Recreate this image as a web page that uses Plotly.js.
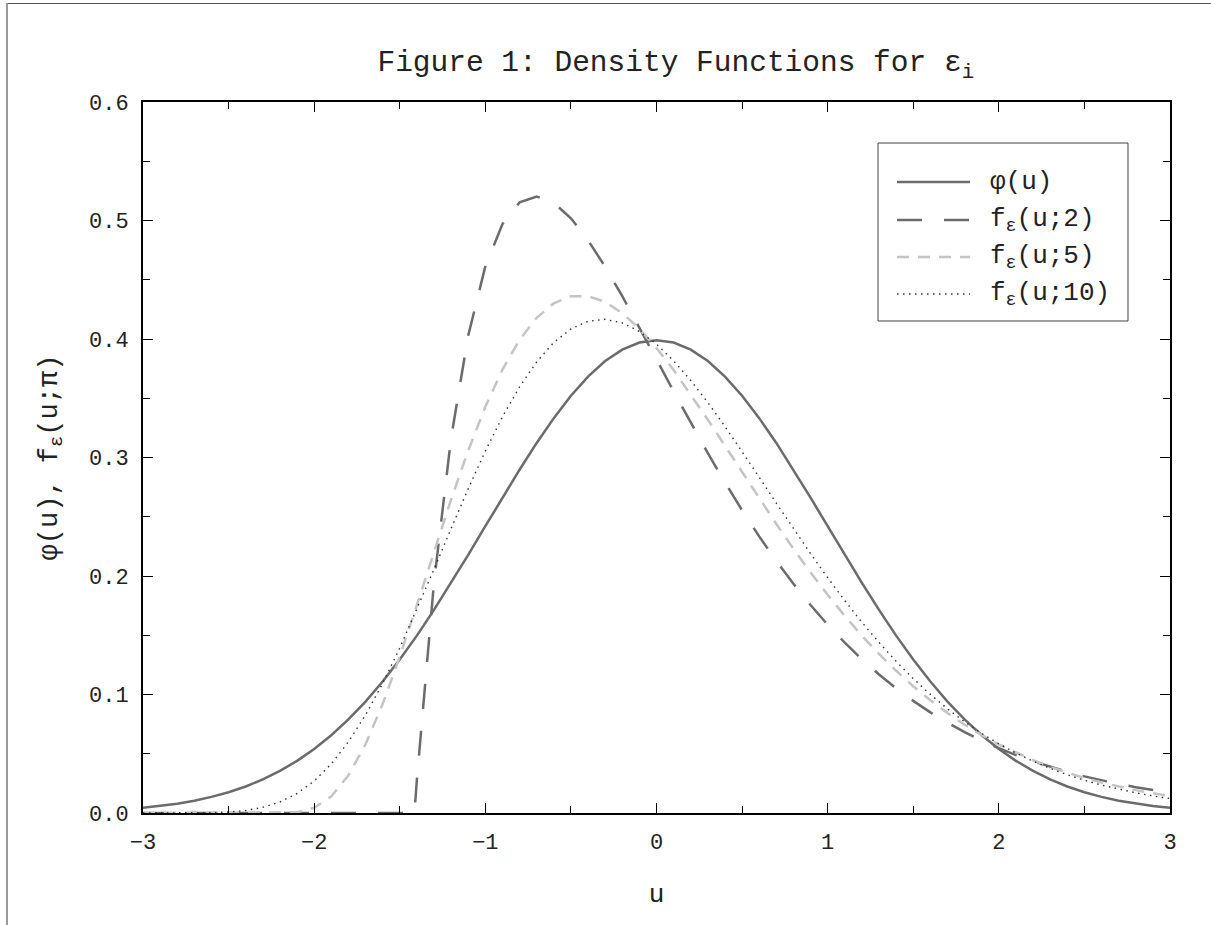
<!DOCTYPE html>
<html>
<head>
<meta charset="utf-8">
<script src="https://cdn.plot.ly/plotly-3.0.1.min.js"></script>
<style>
  html, body { margin: 0; padding: 0; background: #fff; }
  #wrap { position: relative; width: 1211px; height: 925px; overflow: hidden; }
  #chart { position: absolute; left: 0; top: 0; width: 1211px; height: 925px; }
  #ftop { position: absolute; left: 6px; top: 3px; width: 1205px; height: 1px; background: #555; pointer-events: none; }
  #fleft { position: absolute; left: 6px; top: 3px; width: 2px; height: 922px; background: #999; pointer-events: none; }
</style>
</head>
<body>
<div id="wrap">
  <div id="chart"></div>
  <div id="ftop"></div>
  <div id="fleft"></div>
</div>
<script>
// ---- data ----
const uGrid = [-3.0,-2.9,-2.8,-2.7,-2.6,-2.5,-2.4,-2.3,-2.2,-2.1,-2.0,-1.9,-1.8,-1.7,-1.6,-1.5,-1.4,-1.3,-1.2,-1.1,-1.0,-0.9,-0.8,-0.7,-0.6,-0.5,-0.4,-0.3,-0.2,-0.1,0.0,0.1,0.2,0.3,0.4,0.5,0.6,0.7,0.8,0.9,1.0,1.1,1.2,1.3,1.4,1.5,1.6,1.7,1.8,1.9,2.0,2.1,2.2,2.3,2.4,2.5,2.6,2.7,2.8,2.9,3.0];

const phiVals = [0.0044,0.0060,0.0079,0.0104,0.0136,0.0175,0.0224,0.0283,0.0355,0.0440,0.0540,0.0656,0.0790,0.0940,0.1109,0.1295,0.1497,0.1714,0.1942,0.2179,0.2420,0.2661,0.2897,0.3123,0.3332,0.3521,0.3683,0.3814,0.3910,0.3970,0.3989,0.3970,0.3910,0.3814,0.3683,0.3521,0.3332,0.3123,0.2897,0.2661,0.2420,0.2179,0.1942,0.1714,0.1497,0.1295,0.1109,0.0940,0.0790,0.0656,0.0540,0.0440,0.0355,0.0283,0.0224,0.0175,0.0136,0.0104,0.0079,0.0060,0.0044];

const u2 = [-3.0,-1.414,-1.4,-1.3,-1.2,-1.1,-1.0,-0.9,-0.8,-0.7,-0.6,-0.5,-0.4,-0.3,-0.2,-0.1,0.0,0.1,0.2,0.3,0.4,0.5,0.6,0.7,0.8,0.9,1.0,1.1,1.2,1.3,1.4,1.5,1.6,1.7,1.8,1.9,2.0,2.1,2.2,2.3,2.4,2.5,2.6,2.7,2.8,2.9,3.0];
const f2Vals = [0,0,0.0279,0.1944,0.3165,0.4030,0.4612,0.4970,0.5153,0.5202,0.5149,0.5019,0.4833,0.4610,0.4361,0.4098,0.3828,0.3558,0.3293,0.3036,0.2789,0.2555,0.2334,0.2127,0.1934,0.1755,0.1589,0.1437,0.1297,0.1169,0.1052,0.0946,0.0849,0.0762,0.0683,0.0611,0.0547,0.0488,0.0436,0.0389,0.0347,0.0309,0.0275,0.0245,0.0218,0.0193,0.0172];

const u5 = [-3.0,-2.236,-2.2,-2.1,-2.0,-1.9,-1.8,-1.7,-1.6,-1.5,-1.4,-1.3,-1.2,-1.1,-1.0,-0.9,-0.8,-0.7,-0.6,-0.5,-0.4,-0.3,-0.2,-0.1,0.0,0.1,0.2,0.3,0.4,0.5,0.6,0.7,0.8,0.9,1.0,1.1,1.2,1.3,1.4,1.5,1.6,1.7,1.8,1.9,2.0,2.1,2.2,2.3,2.4,2.5,2.6,2.7,2.8,2.9,3.0];
const f5Vals = [0,0,0.0000,0.0006,0.0043,0.0140,0.0318,0.0580,0.0919,0.1319,0.1755,0.2205,0.2646,0.3059,0.3428,0.3742,0.3993,0.4179,0.4301,0.4361,0.4362,0.4313,0.4218,0.4086,0.3924,0.3738,0.3534,0.3319,0.3099,0.2876,0.2655,0.2439,0.2230,0.2030,0.1841,0.1663,0.1496,0.1342,0.1200,0.1070,0.0951,0.0843,0.0745,0.0657,0.0578,0.0508,0.0445,0.0389,0.0339,0.0295,0.0257,0.0223,0.0193,0.0167,0.0144];

const f10Vals = [0.0000,0.0000,0.0000,0.0001,0.0003,0.0008,0.0021,0.0048,0.0093,0.0165,0.0270,0.0414,0.0600,0.0827,0.1093,0.1392,0.1717,0.2056,0.2400,0.2736,0.3054,0.3344,0.3596,0.3807,0.3971,0.4085,0.4150,0.4166,0.4136,0.4064,0.3956,0.3816,0.3650,0.3464,0.3262,0.3051,0.2834,0.2615,0.2399,0.2189,0.1986,0.1792,0.1609,0.1439,0.1280,0.1134,0.1001,0.0879,0.0770,0.0671,0.0584,0.0506,0.0437,0.0376,0.0323,0.0276,0.0236,0.0200,0.0170,0.0144,0.0122];

const seriesNames = ['φ(u)', 'f<sub>ε</sub>(u;2)', 'f<sub>ε</sub>(u;5)', 'f<sub>ε</sub>(u;10)'];
const xTicks = [-3,-2,-1,0,1,2,3];
const yTicks = [0.0,0.1,0.2,0.3,0.4,0.5,0.6];

// ---- styles ----
const styles = [
  {color: '#6b6b6b', width: 2.5, dash: 'solid'},
  {color: '#6b6b6b', width: 2.5, dash: '25px,22px'},
  {color: '#c4c4c4', width: 2.5, dash: '12px,9px'},
  {color: '#333333', width: 1.4, dash: '1.5px,4.5px'}
];
const FONT = 'Liberation Mono, DejaVu Sans Mono, monospace';

const xs = [uGrid, u2, u5, uGrid];
const ys = [phiVals, f2Vals, f5Vals, f10Vals];

const traces = ys.map((y, i) => ({
  type: 'scatter', mode: 'lines', x: xs[i], y: y, name: seriesNames[i],
  line: {color: styles[i].color, width: styles[i].width, dash: styles[i].dash},
  showlegend: false, hoverinfo: 'skip'
}));

// manual legend (box, sample lines, labels) in paper coordinates
const legBox = {x0: 0.7157, x1: 0.9591, y0: 0.6920, y1: 0.9423};
const legRowsY = [0.8875, 0.8340, 0.7820, 0.7300];
const shapes = [{
  type: 'rect', xref: 'paper', yref: 'paper',
  x0: legBox.x0, x1: legBox.x1, y0: legBox.y0, y1: legBox.y1,
  line: {color: '#444', width: 1}, fillcolor: 'rgba(255,255,255,1)', layer: 'above'
}];
const annotations = [];
seriesNames.forEach((n, i) => {
  shapes.push({
    type: 'line', xref: 'paper', yref: 'paper',
    x0: 0.7342, x1: 0.8053, y0: legRowsY[i], y1: legRowsY[i],
    line: {color: styles[i].color, width: styles[i].width, dash: styles[i].dash}, layer: 'above'
  });
  annotations.push({
    xref: 'paper', yref: 'paper', x: 0.8228, y: legRowsY[i],
    xanchor: 'left', yanchor: 'middle', showarrow: false,
    text: n, font: {family: FONT, size: 26, color: '#222'}
  });
});

const axisCommon = {
  showline: true, linecolor: '#000', linewidth: 2, mirror: 'allticks',
  ticks: 'inside', ticklen: 10, tickwidth: 1, tickcolor: '#000',
  showgrid: false, zeroline: false,
  tickfont: {family: FONT, size: 22, color: '#222'}
};

const layout = {
  width: 1211, height: 925,
  margin: {l: 143, r: 41, t: 102, b: 112},
  paper_bgcolor: '#fff', plot_bgcolor: '#fff',
  showlegend: false,
  title: {
    text: 'Figure 1: Density Functions for ε<sub>i</sub>',
    font: {family: FONT, size: 29.5, color: '#222'},
    x: 0.558, xref: 'container', xanchor: 'center',
    y: 0.934, yref: 'container', yanchor: 'middle'
  },
  xaxis: Object.assign({}, axisCommon, {
    range: [-3, 3], tickmode: 'array', tickvals: xTicks,
    ticklabelstandoff: 8,
    minor: {ticks: 'inside', ticklen: 7, tickwidth: 1, tickcolor: '#000', dtick: 0.5, tick0: 0},
    title: {text: 'u', font: {family: FONT, size: 26, color: '#222'}, standoff: 28}
  }),
  yaxis: Object.assign({}, axisCommon, {
    range: [0, 0.6], tickmode: 'array', tickvals: yTicks, tickformat: '.1f',
    ticklabelstandoff: 8,
    minor: {ticks: 'inside', ticklen: 7, tickwidth: 1, tickcolor: '#000', dtick: 0.05, tick0: 0},
    title: {text: 'φ(u), f<sub>ε</sub>(u;π)', font: {family: FONT, size: 27, color: '#222'}, standoff: 24}
  }),
  shapes: shapes,
  annotations: annotations
};

Plotly.newPlot('chart', traces, layout, {displayModeBar: false, staticPlot: true});
</script>
</body>
</html>
